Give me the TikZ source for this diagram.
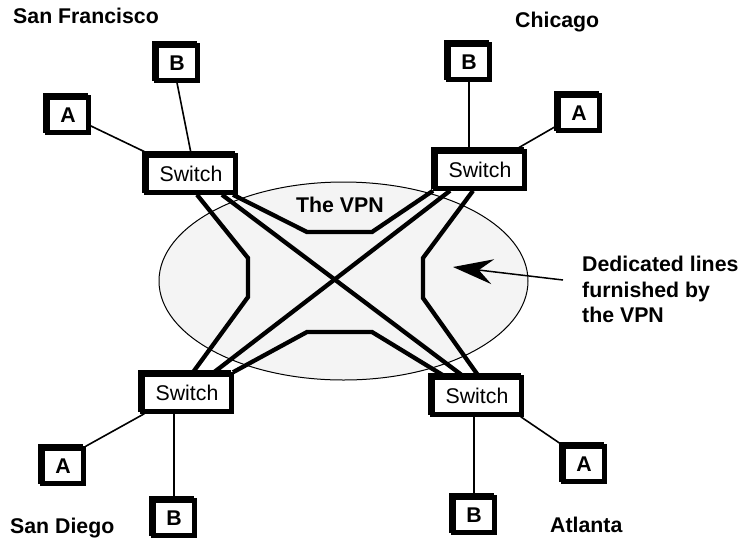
\documentclass[tikz,border=0pt]{standalone}
\usepackage{fontspec}
\setmainfont{Liberation Sans}
\usetikzlibrary{arrows.meta,shadows,backgrounds}
\definecolor{vpnfill}{gray}{0.955}
\begin{document}
\begin{tikzpicture}[x=1pt,y=-1pt,
  every node/.style={font=\fontsize{21.3}{25}\selectfont},
  shbox/.style={draw, fill=white, line width=4.5pt, inner sep=0pt,
     drop shadow={shadow xshift=-2.5pt, shadow yshift=2pt, fill=black,
                  draw=black, line width=4.5pt, opacity=1}},
  switch/.style={shbox, minimum width=89pt, minimum height=37pt},
  site/.style={shbox, minimum width=41pt, minimum height=35pt,
     font=\fontsize{21.3}{25}\selectfont\bfseries},
  lbl/.style={anchor=base west, inner sep=0pt,
     font=\fontsize{21.3}{25}\selectfont\bfseries},
  trunk/.style={line width=4.3pt, line join=miter},
  tap/.style={line width=1.6pt},
  pointer/.style={line width=1.5pt,
     -{Stealth[length=40pt,width=25pt,inset=14pt]}},
]
\useasboundingbox (0,0) rectangle (742,539);

% switches
\node[switch] (sfSw) at (191,174) {Switch};
\node[switch] (chSw) at (480,170) {Switch};
\node[switch] (sdSw) at (187,393) {Switch};
\node[switch] (atSw) at (477,396) {Switch};

% customer sites
\node[site] (sfA) at (68,115) {A};
\node[site] (sfB) at (177,63) {B};
\node[site] (chA) at (579,113) {A};
\node[site] (chB) at (469,62) {B};
\node[site] (sdA) at (63,466) {A};
\node[site] (sdB) at (174,518) {B};
\node[site] (atA) at (584,464) {A};
\node[site] (atB) at (474,515) {B};

% city names
\node[lbl] (sfName) at (13,23) {San Francisco};
\node[lbl] (chName) at (515,27) {Chicago};
\node[lbl] (sdName) at (10,533) {San Diego};
\node[lbl] (atName) at (550,532) {Atlanta};

% labels
\node[lbl, anchor=base] (vpnName) at (340,212) {The VPN};
\node[lbl] (dl1) at (582,271) {Dedicated lines};
\node[lbl] (dl2) at (582,297) {furnished by};
\node[lbl] (dl3) at (582,322) {the VPN};

% access links
\draw[tap] (sfA) -- (sfSw);
\draw[tap] (sfB.south) -- (sfSw.north);
\draw[tap] (chA) -- (chSw);
\draw[tap] (chB) -- (chB |- chSw.north);
\draw[tap] (sdA.north east) -- ([xshift=4pt]sdSw.south west);
\draw[tap] (sdB) -- (sdB |- sdSw.south);
\draw[tap] (atA.north west) -- ([xshift=-3pt]atSw.south east);
\draw[tap] (atB) -- (atB |- atSw.south);

\begin{scope}[on background layer]
  \draw[line width=1pt, fill=vpnfill] (343.5,281) ellipse [x radius=184.5, y radius=99];
  % dedicated lines
  \draw[trunk] ([xshift=6pt]sfSw.south) -- (248,258) -- (248,297) -- ([xshift=6pt]sdSw.north);
  \draw[trunk] ([xshift=31pt]sfSw.south) -- ([xshift=-15pt]atSw.north);
  \draw[trunk] ([xshift=-30pt]chSw.south) -- ([xshift=27pt]sdSw.north);
  \draw[trunk] ([xshift=42pt]sfSw.south) -- (307,232) -- (372,232) -- ([xshift=-47pt]chSw.south);
  \draw[trunk] ([xshift=-7pt]chSw.south) -- (423,258) -- (423,298) -- ([xshift=1pt]atSw.north);
  \draw[trunk] ([xshift=46pt]sdSw.north) -- (307,332) -- (372,332) -- ([xshift=-34pt]atSw.north);
\end{scope}

% pointer to the dedicated lines
\coordinate (ptrTail) at (563,280);
\coordinate (ptrTip) at (453,267);
\draw[pointer] (ptrTail) -- (ptrTip);
\end{tikzpicture}
\end{document}
